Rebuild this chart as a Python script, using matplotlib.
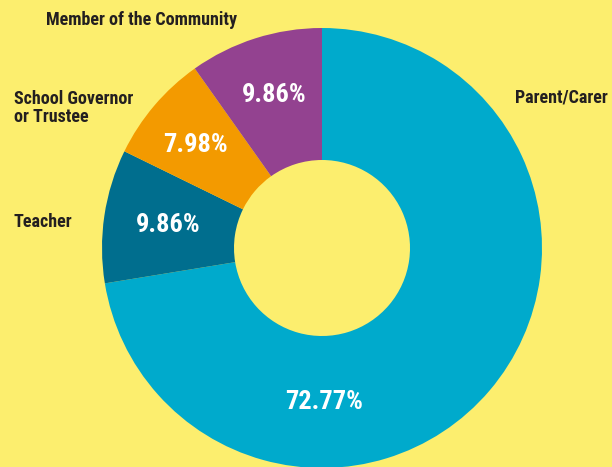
import matplotlib
matplotlib.use("Agg")
import matplotlib.pyplot as plt
from matplotlib import font_manager as fm
from matplotlib.font_manager import FontProperties

categories = ["Parent/Carer", "Teacher", "School Governor\nor Trustee", "Member of the Community"]
values = [72.77, 9.86, 7.98, 9.86]
pct_labels = ["72.77%", "9.86%", "7.98%", "9.86%"]
colors = ["#00AACC", "#006E8E", "#F39A00", "#934290"]
bg = "#FCEE6E"

# find a bold condensed face if any
cands = []
for f in fm.fontManager.ttflist:
    fn = f.fname.lower()
    w = f.weight if isinstance(f.weight, int) else (700 if "bold" in str(f.weight) else 400)
    if ("condensed" in fn or "narrow" in fn or str(f.stretch) in ("condensed", "semi-condensed", "extra-condensed")) \
            and ("bold" in fn or w >= 600) and "oblique" not in fn and "italic" not in fn:
        cands.append(f)
pref = ["Roboto", "Open Sans", "Noto Sans", "Liberation", "DejaVu"]
cands.sort(key=lambda f: next((i for i, p in enumerate(pref) if p.lower() in f.name.lower()), 99))
if cands:
    base = dict(fname=cands[0].fname)
    found = True
else:
    base = dict(family="DejaVu Sans", weight="bold")
    found = False

W, H = 612, 467
fig = plt.figure(figsize=(W / 100, H / 100), dpi=100, facecolor=bg)
ax = fig.add_axes([0, 0, 1, 1])
ax.set_facecolor(bg)

cx, cy, R = 322, H - 248, 220
ax.pie(values, colors=colors, startangle=90, counterclock=False,
       center=(cx, cy), radius=R, frame=True,
       wedgeprops=dict(width=R - 88, edgecolor="none", linewidth=0))
ax.set_xlim(0, W)
ax.set_ylim(0, H)
ax.set_aspect("equal")
ax.axis("off")

pct_size = 19 if found else 16
lab_size = 13 if found else 9.5

# percentage labels (pixel coordinates from top)
pct_pos = [(324, 402), (168, 225), (195, 145), (274, 95)]
for (x, y), t in zip(pct_pos, pct_labels):
    ax.text(x, H - y, t, color="white", fontproperties=FontProperties(size=pct_size, **base),
            ha="center", va="center")

# category labels
lab_pos = [(515, 97, "left"), (14, 222, "left"), (14, 108, "left"), (142, 20, "center")]
for (x, y, ha), t in zip(lab_pos, categories):
    ax.text(x, H - y, t, color="#231F20", fontproperties=FontProperties(size=lab_size, **base),
            ha=ha, va="center", linespacing=1.0)

fig.savefig("out.png", dpi=100, facecolor=bg)
